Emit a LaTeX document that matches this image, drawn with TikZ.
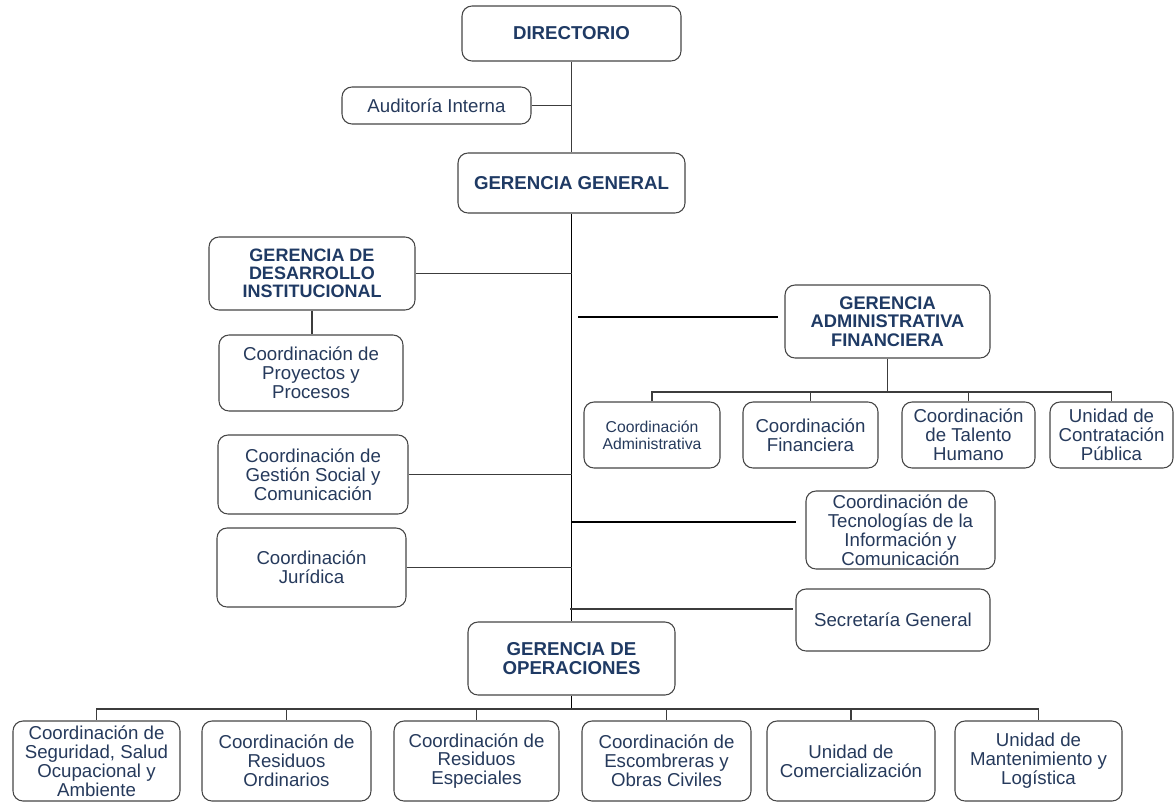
\documentclass[tikz,border=0pt]{standalone}
\usepackage{fontspec}
\setmainfont{Liberation Sans}
\definecolor{hd}{RGB}{31,58,100}
\definecolor{tx}{RGB}{38,58,92}
\definecolor{bordc}{RGB}{70,70,70}
\definecolor{linec}{RGB}{60,60,60}
\begin{document}
\begin{tikzpicture}[x=0.75pt,y=-0.75pt,
  box/.style={draw=bordc, line width=0.8pt, rounded corners=7.5pt, align=center, inner sep=0pt, text=tx, fill=white, font=\fontsize{14}{14.2}\selectfont},
  head/.style={box, text=hd, font=\fontsize{14}{13.7}\selectfont\bfseries},
  sz/.style 2 args={minimum width=#1*0.75pt, minimum height=#2*0.75pt},
  ln/.style={draw=linec, line width=0.8pt},
  trunk/.style={draw=black, line width=1.3pt}]
\useasboundingbox (0,0) rectangle (1175,803);

% top
\node[head, sz={219}{55}] (dir) at (571.5,33.5) {DIRECTORIO};
\node[box, sz={189}{37}] (aud) at (436.5,105.5) {Auditoría Interna};
\node[head, sz={227}{60}] (gg) at (571.5,183) {GERENCIA GENERAL};

% left column
\node[head, sz={206}{73}, font=\fontsize{13.5}{13.6}\selectfont\bfseries] (gdi) at (312,273.5) {GERENCIA DE\\DESARROLLO\\INSTITUCIONAL};
\node[box, sz={184}{76}] (proy) at (311,373) {Coordinación de\\Proyectos y\\Procesos};
\node[box, sz={190}{79}] (ges) at (313,474.5) {Coordinación de\\Gestión Social y\\Comunicación};
\node[box, sz={189}{79}] (jur) at (311.5,567.5) {Coordinación\\Jurídica};

% right column
\node[head, sz={205}{73}, font=\fontsize{13.7}{13.7}\selectfont\bfseries] (gaf) at (887.5,321.5) {GERENCIA\\ADMINISTRATIVA\\FINANCIERA};
\node[box, sz={136}{66}, font=\fontsize{11.8}{12.5}\selectfont] (ca) at (652,435) {Coordinación\\Administrativa};
\node[box, sz={135}{66}] (cf) at (810.5,435) {Coordinación\\Financiera};
\node[box, sz={133}{66}] (cth) at (968.5,435) {Coordinación\\de Talento\\Humano};
\node[box, sz={123}{66}] (ucp) at (1111.5,435) {Unidad de\\Contratación\\Pública};
\node[box, sz={189}{78}] (tic) at (900.5,530) {Coordinación de\\Tecnologías de la\\Información y\\Comunicación};
\node[box, sz={194}{62}] (sec) at (893,620) {Secretaría General};

% operations
\node[head, sz={207}{73}] (ops) at (571.5,658.5) {GERENCIA DE\\OPERACIONES};
\node[box, sz={167}{80}] (b1) at (96.5,761) {Coordinación de\\Seguridad, Salud\\Ocupacional y\\Ambiente};
\node[box, sz={169}{80}] (b2) at (286.5,761) {Coordinación de\\Residuos\\Ordinarios};
\node[box, sz={165}{80}] (b3) at (476.5,761) {Coordinación de\\Residuos\\Especiales};
\node[box, sz={169}{80}] (b4) at (666.5,761) {Coordinación de\\Escombreras y\\Obras Civiles};
\node[box, sz={168}{80}] (b5) at (851,761) {Unidad de\\Comercialización};
\node[box, sz={167}{80}] (b6) at (1038.5,761) {Unidad de\\Mantenimiento y\\Logística};

% connectors
\draw[ln] (dir.south) -- (gg.north);
\draw[ln] (aud.east) -- (aud.east -| dir.south);
\draw[trunk] (gg.south) -- (ops.north);
\draw[ln] (gdi.east) -- (gdi.east -| gg.south);
\draw[ln] (gdi.south) -- (gdi.south |- proy.north);
\draw[ln] (ges.east) -- (ges.east -| gg.south);
\draw[ln] (jur.east) -- (jur.east -| gg.south);

\coordinate (gafL) at (578,317);
\draw[draw=black, line width=0.8pt, shorten >=5pt] (gafL) -- (gafL -| gaf.west);
\coordinate (ticL) at (572,522);
\draw[draw=black, line width=0.8pt, shorten >=7pt] (ticL) -- (ticL -| tic.west);
\coordinate (secL) at (570,609);
\draw[ln, shorten >=2pt] (secL) -- (secL -| sec.west);

\coordinate (gafbar) at (887.5,392);
\draw[ln] (gaf.south) -- (gafbar);
\foreach \c in {ca,cf,cth,ucp} \draw[ln] (gafbar) -| (\c.north);

\coordinate (opsbar) at (571.5,709);
\draw[draw=black, line width=1pt] (ops.south) -- (opsbar);
\foreach \c in {b1,b2,b3,b4,b5,b6} \draw[ln] (opsbar) -| (\c.north);
\end{tikzpicture}
\end{document}
